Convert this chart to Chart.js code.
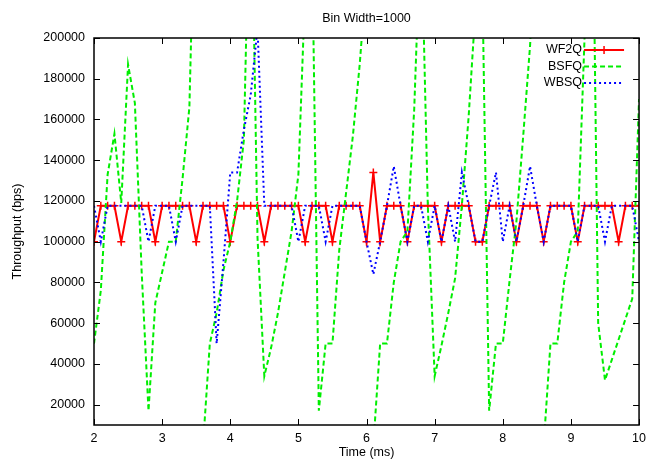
<!DOCTYPE html>
<html>
<head>
<meta charset="utf-8">
<script src="https://cdn.jsdelivr.net/npm/chart.js@4.4.1/dist/chart.umd.min.js"></script>
<style>
  html, body { margin: 0; padding: 0; background: #fff; }
  #wrap { width: 652px; height: 464px; }
</style>
</head>
<body>
<div id="wrap"><canvas id="chart"></canvas></div>
<script>
// Données
const times = [
  2.0, 2.1, 2.2, 2.3, 2.4, 2.5, 2.6, 2.7, 2.8, 2.9,
  3.0, 3.1, 3.2, 3.3, 3.4, 3.5, 3.6, 3.7, 3.8, 3.9,
  4.0, 4.1, 4.2, 4.3, 4.4, 4.5, 4.6, 4.7, 4.8, 4.9,
  5.0, 5.1, 5.2, 5.3, 5.4, 5.5, 5.6, 5.7, 5.8, 5.9,
  6.0, 6.1, 6.2, 6.3, 6.4, 6.5, 6.6, 6.7, 6.8, 6.9,
  7.0, 7.1, 7.2, 7.3, 7.4, 7.5, 7.6, 7.7, 7.8, 7.9,
  8.0, 8.1, 8.2, 8.3, 8.4, 8.5, 8.6, 8.7, 8.8, 8.9,
  9.0, 9.1, 9.2, 9.3, 9.4, 9.5, 9.6, 9.7, 9.8, 9.9,
  10.0
];

const wf2q = [
  100000, 117647, 117647, 117647, 100000, 117647, 117647, 117647, 117647, 100000,
  117647, 117647, 117647, 117647, 117647, 100000, 117647, 117647, 117647, 117647,
  100000, 117647, 117647, 117647, 117647, 100000, 117647, 117647, 117647, 117647,
  117647, 100000, 117647, 117647, 117647, 100000, 117647, 117647, 117647, 117647,
  100000, 134000, 100000, 117647, 117647, 117647, 100000, 117647, 117647, 117647,
  117647, 100000, 117647, 117647, 117647, 117647, 100000, 100000, 117647, 117647,
  117647, 117647, 100000, 117647, 117647, 117647, 100000, 117647, 117647, 117647,
  117647, 100000, 117647, 117647, 117647, 117647, 117647, 100000, 117647, 117647,
  117647
];

const bsfq = [
  50000, 76000, 133000, 153000, 119000, 187000, 168000, 85000, 17000, 70000,
  85000, 100000, 100000, 131000, 166000, 300000, 0, 50000, 65000, 86000,
  100000, 120000, 150000, 300000, 102000, 34000, 48000, 65000, 85000, 105000,
  133000, 225000, 250000, 17000, 50000, 50000, 96000, 124000, 152000, 187000,
  231000, 0, 50000, 50000, 80000, 100000, 105000, 165000, 260000, 117000,
  34000, 49000, 65000, 82000, 118000, 162000, 215000, 227000, 17000, 50000,
  50000, 81000, 110000, 152000, 196000, 260000, 0, 50000, 50000, 80000,
  100000, 105000, 200000, 327000, 60000, 32000, 42000, 52000, 62000, 72000,
  170000
];

const wbsq = [
  117647, 100000, 117647, 117647, 117647, 117647, 117647, 117647, 100000, 117647,
  117647, 117647, 100000, 117647, 117647, 117647, 117647, 117647, 50000, 90000,
  134000, 134000, 155000, 172000, 205000, 117647, 117647, 117647, 117647, 117647,
  100000, 117647, 117647, 117647, 100000, 117647, 117647, 117647, 117647, 117647,
  100000, 84000, 100000, 117647, 137000, 117647, 100000, 117647, 117647, 100000,
  117647, 100000, 117647, 100000, 134000, 117647, 100000, 100000, 117647, 134000,
  100000, 117647, 100000, 117647, 137000, 117647, 100000, 117647, 117647, 117647,
  117647, 100000, 117647, 117647, 117647, 100000, 117647, 117647, 117647, 117647,
  100000
];

const xTicks = [2, 3, 4, 5, 6, 7, 8, 9, 10];
const yTicks = [20000, 40000, 60000, 80000, 100000, 120000, 140000, 160000, 180000, 200000];
const yMin = 10000;
const yMax = 200000;

const FONT = '"Liberation Sans", Arial, Helvetica, sans-serif';
Chart.defaults.font.family = FONT;
Chart.defaults.font.size = 12.5;
Chart.defaults.color = '#000';

// gnuplot ne trace pas un segment dont les deux extrémités sont hors de l'échelle
const outside = v => v < yMin || v > yMax;
const hideOut = c => (outside(c.p0.parsed.y) && outside(c.p1.parsed.y)) ? 'rgba(0,0,0,0)' : undefined;

// Cadre + graduations vers l'intérieur
const framePlugin = {
  id: 'frame',
  afterDatasetsDraw(chart) {
    const { ctx, chartArea: a, scales: { x, y } } = chart;
    ctx.save();
    ctx.strokeStyle = '#000';
    ctx.lineWidth = 1;
    ctx.beginPath();
    yTicks.forEach(v => {
      const py = Math.round(y.getPixelForValue(v)) + 0.5;
      ctx.moveTo(a.left, py); ctx.lineTo(a.left + 6, py);
      ctx.moveTo(a.right, py); ctx.lineTo(a.right - 6, py);
    });
    xTicks.forEach(v => {
      const px = Math.round(x.getPixelForValue(v)) + 0.5;
      ctx.moveTo(px, a.bottom); ctx.lineTo(px, a.bottom - 6);
      ctx.moveTo(px, a.top); ctx.lineTo(px, a.top + 6);
    });
    ctx.stroke();
    ctx.lineWidth = 1.5;
    ctx.strokeRect(a.left, a.top, a.right - a.left, a.bottom - a.top);
    ctx.restore();
  }
};

// Légende façon gnuplot (en haut à droite, texte avant l'échantillon)
const keyPlugin = {
  id: 'key',
  afterDraw(chart) {
    const { ctx, chartArea: a } = chart;
    ctx.save();
    ctx.font = '12.5px ' + FONT;
    ctx.textAlign = 'right';
    ctx.textBaseline = 'middle';
    chart.data.datasets.forEach((ds, k) => {
      const yy = a.top + 12 + k * 16.5;
      const x0 = a.right - 55, x1 = a.right - 15;
      ctx.fillStyle = '#000';
      ctx.fillText(ds.label, x0 - 2, yy);
      ctx.strokeStyle = ds.borderColor;
      ctx.lineWidth = ds.borderWidth;
      ctx.setLineDash(ds.borderDash || []);
      ctx.beginPath();
      ctx.moveTo(x0, yy); ctx.lineTo(x1, yy);
      ctx.stroke();
      if (ds.pointRadius) {
        const mx = (x0 + x1) / 2, r = ds.pointRadius;
        ctx.setLineDash([]);
        ctx.lineWidth = ds.pointBorderWidth;
        ctx.beginPath();
        ctx.moveTo(mx - r, yy); ctx.lineTo(mx + r, yy);
        ctx.moveTo(mx, yy - r); ctx.lineTo(mx, yy + r);
        ctx.stroke();
      }
    });
    ctx.restore();
  }
};

new Chart(document.getElementById('chart'), {
  type: 'line',
  data: {
    labels: times,
    datasets: [
      {
        label: 'WF2Q',
        data: wf2q,
        borderColor: '#ff0000',
        backgroundColor: '#ff0000',
        borderWidth: 2,
        pointStyle: 'cross',
        pointRadius: 4,
        pointBorderWidth: 1.5,
        pointBorderColor: '#ff0000',
        tension: 0,
        order: 2
      },
      {
        label: 'BSFQ',
        data: bsfq,
        borderColor: '#00ee00',
        borderWidth: 2,
        borderDash: [5, 3],
        pointRadius: 0,
        tension: 0,
        clip: 0,
        segment: { borderColor: hideOut },
        order: 1
      },
      {
        label: 'WBSQ',
        data: wbsq,
        borderColor: '#0000ff',
        borderWidth: 2,
        borderDash: [2, 3],
        pointRadius: 0,
        tension: 0,
        clip: 0,
        segment: { borderColor: hideOut },
        order: 0
      }
    ]
  },
  options: {
    responsive: true,
    maintainAspectRatio: false,
    animation: false,
    devicePixelRatio: 1,
    layout: { padding: { left: 0, right: 9, top: 0, bottom: 0 } },
    plugins: {
      legend: { display: false },
      tooltip: { enabled: false },
      title: {
        display: true,
        text: 'Bin Width=1000',
        fullSize: false,
        color: '#000',
        font: { size: 12.5, weight: 'normal' },
        padding: { top: 11, bottom: 12 }
      }
    },
    scales: {
      x: {
        type: 'linear',
        min: 2,
        max: 10,
        afterBuildTicks: s => { s.ticks = xTicks.map(v => ({ value: v })); },
        afterFit: s => { s.height = 39; },
        grid: { display: false, drawTicks: false },
        border: { display: false },
        ticks: { padding: 6, maxRotation: 0, autoSkip: false, callback: v => String(v) },
        title: { display: true, text: 'Time (ms)', padding: { top: 0, bottom: 3.5 } }
      },
      y: {
        type: 'linear',
        min: yMin,
        max: yMax,
        afterBuildTicks: s => { s.ticks = yTicks.map(v => ({ value: v })); },
        afterFit: s => { s.width = 94; },
        grid: { display: false, drawTicks: false },
        border: { display: false },
        ticks: { padding: 9, callback: v => String(v) },
        title: { display: true, text: 'Throughput (bps)', padding: { top: 10.5, bottom: 0 } }
      }
    }
  },
  plugins: [framePlugin, keyPlugin]
});
</script>
</body>
</html>
